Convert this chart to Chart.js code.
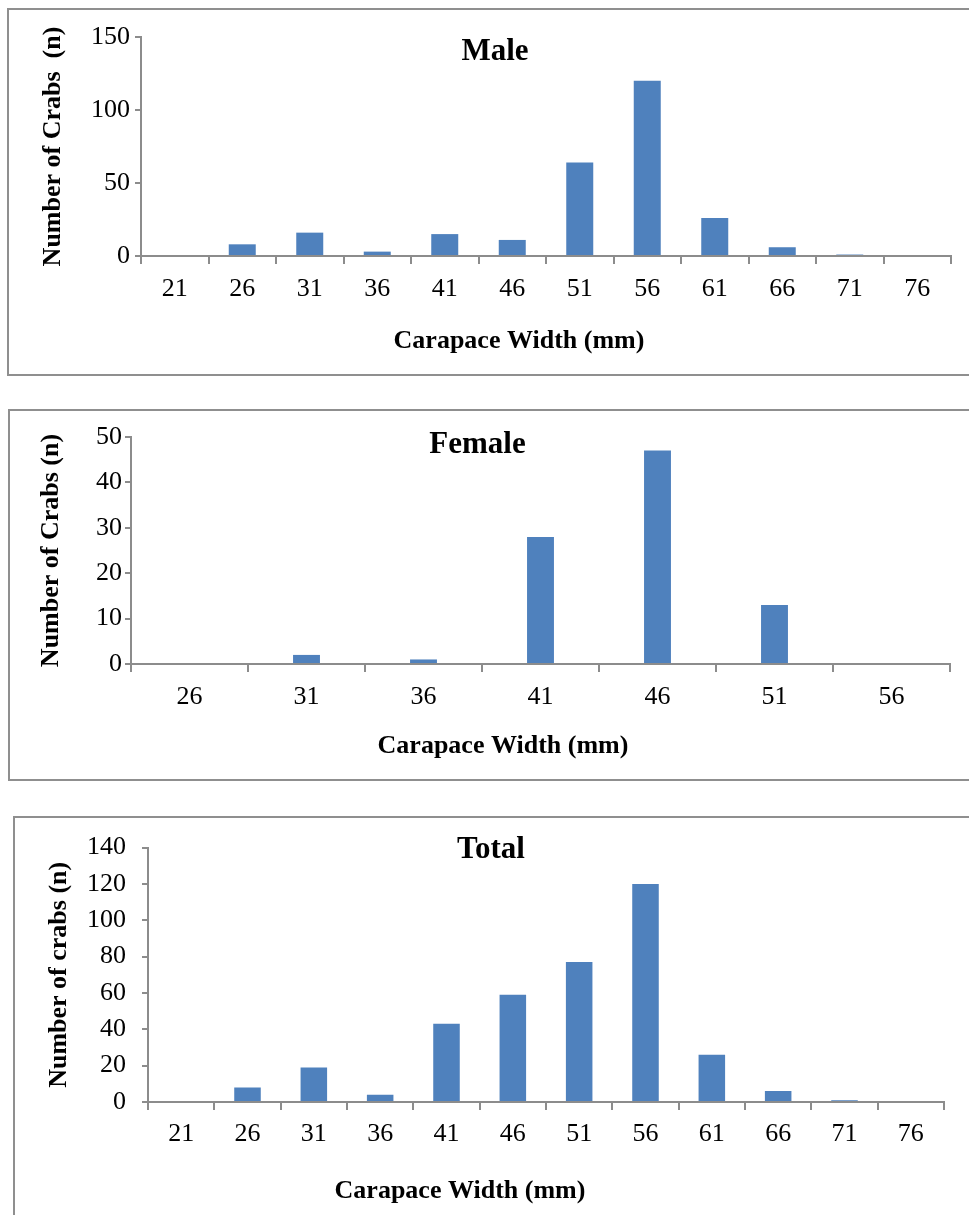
<!DOCTYPE html>
<html>
<head>
<meta charset="utf-8">
<title>Carapace width frequency</title>
<script src="https://cdn.jsdelivr.net/npm/chart.js@4.4.1/dist/chart.umd.min.js"></script>
<style>
  html, body { margin: 0; padding: 0; background: #fff; }
  body { width: 969px; height: 1215px; overflow: hidden; position: relative; }
  .panel { position: absolute; border: 2px solid #8f8f8f; border-right: none; box-sizing: border-box; }
  canvas { position: absolute; }
</style>
</head>
<body>
<div class="panel" id="box-male"></div>
<canvas id="male"></canvas>
<div class="panel" id="box-female"></div>
<canvas id="female"></canvas>
<div class="panel" id="box-total"></div>
<canvas id="total"></canvas>

<script>
// carapace width classes (mm)
var widthClasses = ['21', '26', '31', '36', '41', '46', '51', '56', '61', '66', '71', '76'];
var femaleWidthClasses = ['26', '31', '36', '41', '46', '51', '56'];

// number of crabs per class
var maleCounts = [0, 8, 16, 3, 15, 11, 64, 120, 26, 6, 1, 0];
var femaleCounts = [0, 2, 1, 28, 47, 13, 0];
var totalCounts = [0, 8, 19, 4, 43, 59, 77, 120, 26, 6, 1, 0];

var BAR_BLUE = '#4f81bd';
var AXIS_GREY = '#8c8c8c';
var SERIF = "'Liberation Serif', 'Times New Roman', serif";

// title and x caption sit inside the frame like the Excel original, not centred on the plot
var panelText = {
    id: 'panelText',
    afterDraw(chart, args, opts) {
        var ctx = chart.ctx;
        ctx.save();
        ctx.fillStyle = '#000';
        ctx.textAlign = 'center';
        ctx.textBaseline = 'alphabetic';
        ctx.font = 'bold 31px ' + SERIF;
        ctx.fillText(opts.title, chart.width / 2 + opts.titleDx, opts.titleBaseline);
        ctx.font = 'bold 26px ' + SERIF;
        ctx.fillText(opts.caption, opts.captionX, opts.captionBaseline);
        ctx.restore();
    }
};

function placeBox(name, p) {
    var box = document.getElementById('box-' + name);
    box.style.left = p.x + 'px';
    box.style.top = p.y + 'px';
    box.style.width = (969 - p.x + 10) + 'px';
    box.style.height = p.h + 'px';
    var canvas = document.getElementById(name);
    canvas.style.left = p.x + 'px';
    canvas.style.top = p.y + 'px';
    canvas.width = 969 - p.x;
    canvas.height = p.h;
    return canvas;
}

function renderPanel(name, labels, counts, p) {
    var canvas = placeBox(name, p);
    var xAxisHeight = 60;

    return new Chart(canvas.getContext('2d'), {
        type: 'bar',
        data: {
            labels: labels,
            datasets: [{
                data: counts,
                backgroundColor: BAR_BLUE,
                borderWidth: 0,
                barPercentage: p.barPct,
                categoryPercentage: 1
            }]
        },
        options: {
            responsive: false,
            animation: false,
            events: [],
            layout: {
                padding: {
                    left: 0,
                    top: p.top,
                    right: canvas.width - p.right,
                    bottom: p.h - p.bottom - xAxisHeight
                }
            },
            plugins: {
                legend: { display: false },
                tooltip: { enabled: false },
                panelText: {
                    title: p.title,
                    titleDx: p.titleDx,
                    titleBaseline: p.titleBaseline,
                    caption: 'Carapace Width (mm)',
                    captionX: p.captionX,
                    captionBaseline: p.captionBaseline
                }
            },
            scales: {
                x: {
                    afterFit: function(scale) { scale.height = xAxisHeight; },
                    grid: {
                        drawOnChartArea: false,
                        tickLength: 8,
                        color: AXIS_GREY,
                        lineWidth: 2
                    },
                    border: { color: AXIS_GREY, width: 2 },
                    ticks: {
                        color: '#000',
                        font: { family: SERIF, size: 26 },
                        padding: p.xTickPad,
                        maxRotation: 0,
                        autoSkip: false
                    }
                },
                y: {
                    min: 0,
                    max: p.yMax,
                    afterFit: function(scale) { scale.width = p.left; },
                    grid: {
                        drawOnChartArea: false,
                        tickLength: 6,
                        color: AXIS_GREY,
                        lineWidth: 2
                    },
                    border: { color: AXIS_GREY, width: 2 },
                    ticks: {
                        stepSize: p.yStep,
                        color: '#000',
                        font: { family: SERIF, size: 26 },
                        padding: p.yTickPad
                    },
                    title: {
                        display: true,
                        text: p.yTitle,
                        color: '#000',
                        font: { family: SERIF, size: 26, weight: 'bold' },
                        padding: { top: p.yTitlePad, bottom: 0 }
                    }
                }
            }
        },
        plugins: [panelText]
    });
}

renderPanel('male', widthClasses, maleCounts, {
    x: 7, y: 8, h: 368,
    left: 134, top: 29, right: 944, bottom: 248,
    yMax: 150, yStep: 50, yTickPad: 5, xTickPad: 10, yTitlePad: 31,
    yTitle: 'Number of Crabs  (n)', barPct: 0.4,
    title: 'Male', titleDx: 7, titleBaseline: 52,
    captionX: 512, captionBaseline: 340
});

renderPanel('female', femaleWidthClasses, femaleCounts, {
    x: 8, y: 409, h: 372,
    left: 123, top: 28, right: 942, bottom: 255,
    yMax: 50, yStep: 10, yTickPad: 3, xTickPad: 10, yTitlePad: 28,
    yTitle: 'Number of Crabs (n)', barPct: 0.23,
    title: 'Female', titleDx: -11, titleBaseline: 44,
    captionX: 495, captionBaseline: 344
});

renderPanel('total', widthClasses, totalCounts, {
    x: 13, y: 816, h: 410,
    left: 135, top: 29, right: 931, bottom: 286,
    yMax: 140, yStep: 20, yTickPad: 16, xTickPad: 9, yTitlePad: 31,
    yTitle: 'Number of crabs (n)', barPct: 0.4,
    title: 'Total', titleDx: 0, titleBaseline: 42,
    captionX: 447, captionBaseline: 382
});
</script>
</body>
</html>
